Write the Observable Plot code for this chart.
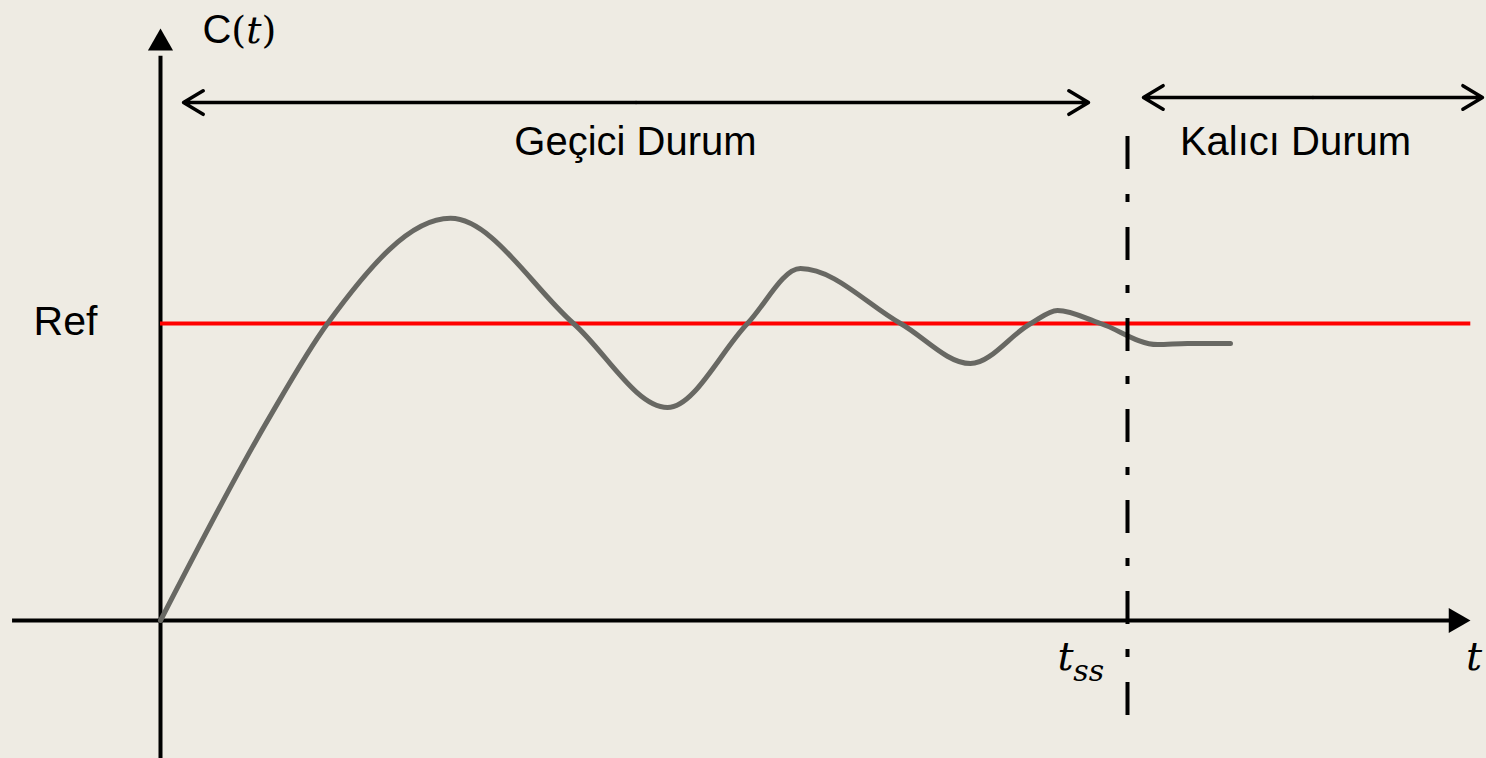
<!DOCTYPE html>
<html>
<head>
<meta charset="utf-8">
<script src="https://cdn.jsdelivr.net/npm/d3@7"></script>
<script src="https://cdn.jsdelivr.net/npm/@observablehq/plot@0.6"></script>
<style>
  html, body { margin: 0; padding: 0; background: #eeebe3; overflow: hidden; }
  #chart svg { display: block; background: #eeebe3; }
</style>
</head>
<body>
<div id="chart"></div>
<script>
// ---- data (time t, response C(t); Ref = 1, t_ss = 10) ----
const responseT = [0, 1.107, 1.727, 2.999, 4.271, 5.243, 6.070, 6.618, 7.653, 8.376, 9.000, 9.276, 9.721, 10.310, 10.620, 11.065];
const responseC = [0, 0.673, 1.000, 1.354, 1.000, 0.717, 1.000, 1.185, 1.000, 0.865, 1.000, 1.044, 1.000, 0.929, 0.933, 0.933];
const refValue = 1;
const refSpan = [0, 13.55];
const tss = 10;
const tssSpan = [1.63, -0.327];
const tAxisSpan = [-1.53, 13.35];
const cAxisSpan = [-0.47, 1.9];
const tArrowHead = [13.397];
const cArrowHead = [1.944];
const transientSpan = [0.238, 9.597];
const transientLevel = 1.744;
const steadySpan = [10.165, 13.671];
const steadyLevel = 1.761;
const labels = ["Geçici Durum", "Kalıcı Durum"];
const labelT = [4.912, 11.737];
const labelC = 1.566;
const refLabel = "Ref";
const yLabel = "C(t)";
const xLabel = "t";
const tssLabel = ["t", "ss"];

const series = responseT.map((t, i) => ({t, c: responseC[i]}));
const W = 1486, H = 758;
const tDomain = [-1.6546, 13.7125];
const cDomain = [-0.4646, 2.0875];

const sans = "Liberation Sans, Arial, sans-serif";
const serif = "DejaVu Serif, serif";
const mid = (a) => (a[0] + a[1]) / 2;

const svg = Plot.plot({
  width: W, height: H,
  margin: 0,
  style: {background: "#eeebe3", overflow: "visible"},
  x: {domain: tDomain, range: [0, W], axis: null},
  y: {domain: cDomain, range: [H, 0], axis: null},
  marks: [
    // axes
    Plot.ruleX([0], {y1: cAxisSpan[0], y2: cAxisSpan[1], stroke: "#000", strokeWidth: 4}),
    Plot.ruleY([0], {x1: tAxisSpan[0], x2: tAxisSpan[1], stroke: "#000", strokeWidth: 4}),
    Plot.dot([0], {x: 0, y: cArrowHead[0], symbol: "triangle2", r: 12, fill: "#000", stroke: null}),
    Plot.dot([0], {x: tArrowHead[0], y: 0, symbol: "triangle2", r: 12, fill: "#000", stroke: null, rotate: 90}),
    // reference
    Plot.ruleY([refValue], {x1: refSpan[0], x2: refSpan[1], stroke: "#ff0000", strokeWidth: 4}),
    // response
    Plot.line(series, {x: "t", y: "c", curve: "monotone-x", stroke: "#686863", strokeWidth: 5}),
    // settling time
    Plot.ruleX([tss], {y1: tssSpan[0], y2: tssSpan[1], stroke: "#000", strokeWidth: 4, strokeDasharray: "33,25,8,25"}),
    // double arrows
    Plot.arrow([0, 1], {x1: mid(transientSpan), y1: transientLevel, x2: (i) => transientSpan[i], y2: transientLevel, stroke: "#000", strokeWidth: 3.5, headLength: 9.8, headAngle: 62}),
    Plot.arrow([0, 1], {x1: mid(steadySpan), y1: steadyLevel, x2: (i) => steadySpan[i], y2: steadyLevel, stroke: "#000", strokeWidth: 3.5, headLength: 9.8, headAngle: 62}),
    // labels
    Plot.text(labels, {x: (d, i) => labelT[i], y: labelC, text: (d) => d, fontSize: 40, fontFamily: sans, lineAnchor: "bottom", textAnchor: "middle", fill: "#000"}),
    Plot.text([refLabel], {x: -1.313, y: 0.96, text: (d) => d, fontSize: 41, fontFamily: sans, lineAnchor: "bottom", textAnchor: "start", fill: "#000"}),
    Plot.text([yLabel], {x: 0.434, y: 1.943, text: (d) => d, fontSize: 40, fontFamily: sans, lineAnchor: "bottom", textAnchor: "start", fill: "#000"}),
    Plot.text([tssLabel[0]], {x: 9.276, y: -0.168, text: (d) => d, fontSize: 40, fontFamily: serif, fontStyle: "italic", lineAnchor: "bottom", textAnchor: "start", fill: "#000"}),
    Plot.text([tssLabel[1]], {x: 9.44, y: -0.205, text: (d) => d, fontSize: 30, fontFamily: serif, fontStyle: "italic", lineAnchor: "bottom", textAnchor: "start", fill: "#000"}),
    Plot.text([xLabel], {x: 13.5, y: -0.168, text: (d) => d, fontSize: 40, fontFamily: serif, fontStyle: "italic", lineAnchor: "bottom", textAnchor: "start", fill: "#000"})
  ]
});

// C(t): upright "C", math-style "(t)"
svg.querySelectorAll("text").forEach((el) => {
  if (el.textContent !== yLabel) return;
  const s = el.textContent;
  while (el.firstChild) el.removeChild(el.firstChild);
  const ns = "http://www.w3.org/2000/svg";
  const parts = [[s[0], sans, "normal"], [s[1], serif, "normal"], [s[2], serif, "italic"], [s[3], serif, "normal"]];
  parts.forEach(([txt, fam, sty]) => {
    const ts = document.createElementNS(ns, "tspan");
    ts.setAttribute("font-family", fam);
    ts.setAttribute("font-style", sty);
    if (fam === serif) ts.setAttribute("font-size", "38");
    ts.textContent = txt;
    el.appendChild(ts);
  });
});

document.getElementById("chart").appendChild(svg);
</script>
</body>
</html>
